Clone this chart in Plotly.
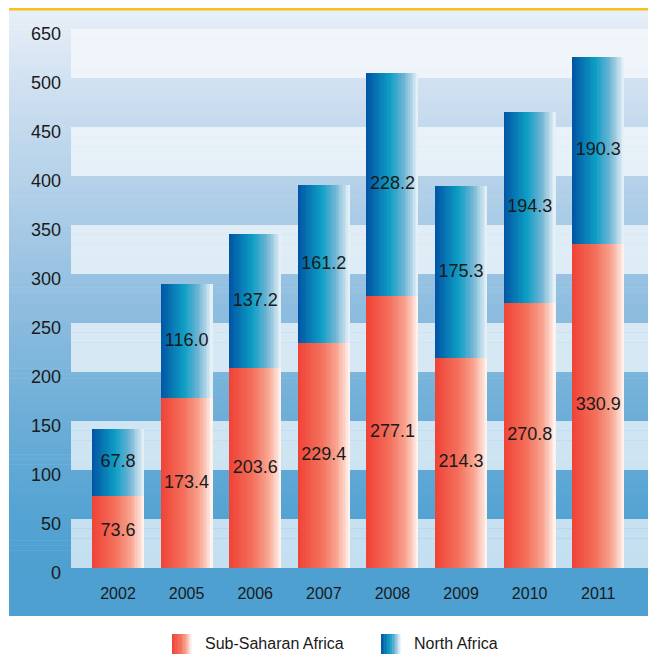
import plotly.graph_objects as go

# ---------------- data ----------------
years = ["2002", "2005", "2006", "2007", "2008", "2009", "2010", "2011"]
sub_saharan = [73.6, 173.4, 203.6, 229.4, 277.1, 214.3, 270.8, 330.9]
north_africa = [67.8, 116.0, 137.2, 161.2, 228.2, 175.3, 194.3, 190.3]
y_tick_vals = [0, 50, 100, 150, 200, 250, 300, 350, 400, 450, 500, 550]
y_tick_text = ["0", "50", "100", "150", "200", "250", "300", "350", "400", "450", "500", "650"]
series_names = ["Sub-Saharan Africa", "North Africa"]

# ---------------- geometry ----------------
# the page body has an 8px default margin, so the figure is drawn at (8, 8)
OFF = 8
PAGE_W, PAGE_H = 656, 654
W, H = PAGE_W - OFF, PAGE_H - OFF
# plot area in page pixels: x 71..648, y 29..568
PX0, PX1, PY0, PY1 = 71, 648, 29, 568
ML, MR, MT, MB = PX0 - OFF, PAGE_W - PX1, PY0 - OFF, PAGE_H - PY1
PW = PX1 - PX0
PH = PY1 - PY0


def pxx(px):
    return (px - PX0) / PW


def pxy(py):
    return (PY1 - py) / PH


def lerp_stops(stops, t):
    t = max(0.0, min(1.0, t))
    for (t0, c0), (t1, c1) in zip(stops[:-1], stops[1:]):
        if t0 <= t <= t1:
            f = 0 if t1 == t0 else (t - t0) / (t1 - t0)
            c = [round(a + (b - a) * f) for a, b in zip(c0, c1)]
            return "rgb(%d,%d,%d)" % tuple(c)
    c = stops[-1][1]
    return "rgb(%d,%d,%d)" % tuple(c)


red_stops = [(0.0, (240, 66, 54)), (0.45, (243, 112, 92)), (0.75, (248, 165, 145)), (1.0, (255, 246, 242))]
blue_stops = [(0.0, (0, 84, 164)), (0.45, (14, 158, 196)), (0.72, (110, 180, 212)), (1.0, (236, 243, 248))]

frame_stops = [(0.0, (232, 239, 248)), (0.16, (202, 221, 239)), (0.33, (172, 205, 231)),
               (0.5, (141, 188, 223)), (0.66, (111, 175, 216)), (0.82, (86, 164, 211)),
               (0.92, (78, 160, 209)), (1.0, (78, 160, 209))]

shapes = []
annotations = []

# outer frame gradient
fy0, fy1 = 9, 616
fx0, fx1 = 9, 660
n_frame = 120
step = (fy1 - fy0) / n_frame
for i in range(n_frame):
    y0 = fy0 + i * step
    y1 = y0 + step + 0.6
    col = lerp_stops(frame_stops, (y0 + step / 2 - fy0) / (fy1 - fy0))
    shapes.append(dict(type="rect", xref="paper", yref="paper", layer="below",
                       x0=pxx(fx0), x1=pxx(fx1), y0=pxy(min(y1, fy1)), y1=pxy(y0),
                       fillcolor=col, line=dict(width=0)))

# light bands inside the plot area
band_stops = [(0.0, (242, 246, 251)), (1.0, (195, 223, 240))]
band_ranges = [(0, 50), (100, 150), (200, 250), (300, 350), (400, 450), (500, 550)]
for lo, hi in band_ranges:
    nb = 5
    for j in range(nb):
        a = lo + (hi - lo) * j / nb
        b = lo + (hi - lo) * (j + 1) / nb
        t = 1 - ((a + b) / 2) / 550
        shapes.append(dict(type="rect", xref="paper", yref="y", layer="below",
                           x0=0, x1=1, y0=a, y1=b + (0.3 if j < nb - 1 else 0),
                           fillcolor=lerp_stops(band_stops, t), line=dict(width=0)))

# yellow top rule
shapes.append(dict(type="rect", xref="paper", yref="paper", layer="above",
                   x0=pxx(fx0), x1=pxx(fx1), y0=pxy(10.5), y1=pxy(7),
                   fillcolor="#f9c11a", line=dict(width=0)))

fig = go.Figure()

# ---------------- bars (horizontal gradient via overlapping slices) ----------------
BW = 0.758
NS = 30
dw = BW / NS
red_base = [0] * len(years)
blue_base = sub_saharan
for vals, base, stops in [(sub_saharan, red_base, red_stops), (north_africa, blue_base, blue_stops)]:
    for k in range(NS):
        t = (k + 0.5) / NS
        fig.add_trace(go.Bar(
            x=years, y=vals, base=base,
            offset=-BW / 2 + k * dw, width=BW - k * dw,
            marker=dict(color=lerp_stops(stops, t), line=dict(width=0)),
            hoverinfo="skip", showlegend=False,
        ))

# value labels
for vals, base in [(sub_saharan, red_base), (north_africa, blue_base)]:
    fig.add_trace(go.Scatter(
        x=years, y=[b + v / 2 for b, v in zip(base, vals)],
        mode="text", text=["%.1f" % v for v in vals],
        textfont=dict(family="Liberation Sans, Arial, sans-serif", size=18, color="#1a1a1a"),
        hoverinfo="skip", showlegend=False,
    ))

# ---------------- legend (gradient squares + text) ----------------
legend_items = [(series_names[0], red_stops, 172), (series_names[1], blue_stops, 381)]
for name, stops, lx in legend_items:
    nl = 12
    sw = 19 / nl
    for k in range(nl):
        shapes.append(dict(type="rect", xref="paper", yref="paper", layer="above",
                           x0=pxx(lx + k * sw), x1=pxx(lx + (k + 1) * sw + 0.5),
                           y0=pxy(656), y1=pxy(634),
                           fillcolor=lerp_stops(stops, (k + 0.5) / nl), line=dict(width=0)))
    annotations.append(dict(xref="paper", yref="paper", x=pxx(lx + 31), y=pxy(643),
                            xanchor="left", yanchor="middle", showarrow=False, text=name,
                            font=dict(family="Liberation Sans, Arial, sans-serif", size=16, color="#1a1a1a")))

fig.update_layout(
    width=W, height=H,
    margin=dict(l=ML, r=MR, t=MT, b=MB, pad=0),
    paper_bgcolor="white", plot_bgcolor="rgba(0,0,0,0)",
    barmode="overlay", bargap=0,
    shapes=shapes, annotations=annotations,
    showlegend=False,
    font=dict(family="Liberation Sans, Arial, sans-serif", color="#1a1a1a"),
)
fig.update_xaxes(type="category", range=[-0.685, 7.725], showgrid=False, zeroline=False,
                 showline=False, ticks="", tickfont=dict(size=16, color="#1a1a1a"),
                 ticklabelstandoff=14, fixedrange=True)
fig.update_yaxes(range=[0, 550], tickvals=y_tick_vals, ticktext=y_tick_text,
                 showgrid=False, zeroline=False, showline=False, ticks="",
                 tickfont=dict(size=18, color="#1a1a1a"),
                 ticklabelstandoff=9, ticklabelshift=5, fixedrange=True)

fig.write_html("out.html")
